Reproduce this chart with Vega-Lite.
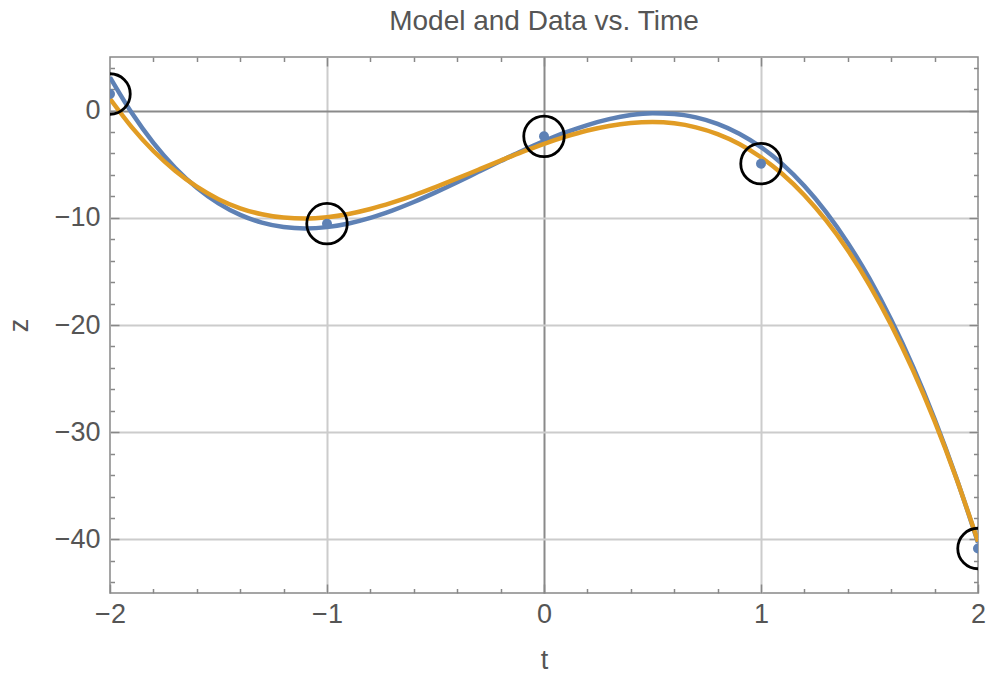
{
  "$schema": "https://vega.github.io/schema/vega-lite/v6.json",
  "width": 868,
  "height": 536,
  "autosize": {"type": "none"},
  "padding": {"left": 110, "top": 57, "right": 11, "bottom": 88},
  "background": "white",
  "title": {"text": "Model and Data vs. Time", "fontSize": 28, "font": "Liberation Sans", "fontWeight": "normal", "color": "#555555", "offset": 20, "anchor": "middle"},
  "config": {
    "view": {"stroke": "#888888", "strokeWidth": 1.5},
    "axis": {"domain": false, "tickColor": "#888888", "tickWidth": 1.5, "labelFont": "Liberation Sans", "labelFontSize": 27, "labelColor": "#555555", "titleFont": "Liberation Sans", "titleFontSize": 27, "titleFontWeight": "normal", "titleColor": "#555555"}
  },
  "datasets": {
    "model": [
      {"t": -2.0, "z": 3.10}, {"t": -1.9, "z": -0.21}, {"t": -1.8, "z": -3.01}, {"t": -1.7, "z": -5.33},
      {"t": -1.6, "z": -7.20}, {"t": -1.5, "z": -8.65}, {"t": -1.4, "z": -9.73}, {"t": -1.3, "z": -10.45},
      {"t": -1.2, "z": -10.86}, {"t": -1.1, "z": -10.99}, {"t": -1.0, "z": -10.87}, {"t": -0.9, "z": -10.53},
      {"t": -0.8, "z": -10.01}, {"t": -0.7, "z": -9.33}, {"t": -0.6, "z": -8.53}, {"t": -0.5, "z": -7.63},
      {"t": -0.4, "z": -6.68}, {"t": -0.3, "z": -5.69}, {"t": -0.2, "z": -4.71}, {"t": -0.1, "z": -3.75},
      {"t": 0.0, "z": -2.85}, {"t": 0.1, "z": -2.04}, {"t": 0.2, "z": -1.35}, {"t": 0.3, "z": -0.80},
      {"t": 0.4, "z": -0.42}, {"t": 0.5, "z": -0.25}, {"t": 0.6, "z": -0.31}, {"t": 0.7, "z": -0.63},
      {"t": 0.8, "z": -1.23}, {"t": 0.9, "z": -2.15}, {"t": 1.0, "z": -3.40}, {"t": 1.1, "z": -5.02},
      {"t": 1.2, "z": -7.03}, {"t": 1.3, "z": -9.46}, {"t": 1.4, "z": -12.34}, {"t": 1.5, "z": -15.68},
      {"t": 1.6, "z": -19.52}, {"t": 1.7, "z": -23.87}, {"t": 1.8, "z": -28.77}, {"t": 1.9, "z": -34.24},
      {"t": 2.0, "z": -40.30}
    ],
    "fit": [
      {"t": -2.0, "z": 1.10}, {"t": -1.9, "z": -1.54}, {"t": -1.8, "z": -3.77}, {"t": -1.7, "z": -5.61},
      {"t": -1.6, "z": -7.10}, {"t": -1.5, "z": -8.26}, {"t": -1.4, "z": -9.11}, {"t": -1.3, "z": -9.67},
      {"t": -1.2, "z": -9.98}, {"t": -1.1, "z": -10.06}, {"t": -1.0, "z": -9.94}, {"t": -0.9, "z": -9.64},
      {"t": -0.8, "z": -9.18}, {"t": -0.7, "z": -8.59}, {"t": -0.6, "z": -7.91}, {"t": -0.5, "z": -7.14},
      {"t": -0.4, "z": -6.33}, {"t": -0.3, "z": -5.49}, {"t": -0.2, "z": -4.66}, {"t": -0.1, "z": -3.85},
      {"t": 0.0, "z": -3.10}, {"t": 0.1, "z": -2.43}, {"t": 0.2, "z": -1.86}, {"t": 0.3, "z": -1.43},
      {"t": 0.4, "z": -1.16}, {"t": 0.5, "z": -1.07}, {"t": 0.6, "z": -1.19}, {"t": 0.7, "z": -1.56},
      {"t": 0.8, "z": -2.19}, {"t": 0.9, "z": -3.11}, {"t": 1.0, "z": -4.35}, {"t": 1.1, "z": -5.94},
      {"t": 1.2, "z": -7.89}, {"t": 1.3, "z": -10.25}, {"t": 1.4, "z": -13.03}, {"t": 1.5, "z": -16.27},
      {"t": 1.6, "z": -19.99}, {"t": 1.7, "z": -24.21}, {"t": 1.8, "z": -28.97}, {"t": 1.9, "z": -34.29},
      {"t": 2.0, "z": -40.20}
    ],
    "obs": [
      {"t": -2, "z": 1.55}, {"t": -1, "z": -10.55}, {"t": 0, "z": -2.4}, {"t": 1, "z": -4.95}, {"t": 2, "z": -40.85}
    ]
  },
  "layer": [
    {
      "data": {"name": "model"},
      "mark": {"type": "line", "color": "#5E81B5", "strokeWidth": 4.5, "interpolate": "monotone", "clip": true},
      "encoding": {
        "x": {"field": "t", "type": "quantitative", "scale": {"domain": [-2, 2], "nice": false, "zero": false},
          "axis": {"orient": "bottom", "title": "t", "values": [-2, -1, 0, 1, 2], "format": "d", "tickSize": -9, "labelPadding": 17, "labelFlush": false, "labelOverlap": false, "grid": true,
            "gridColor": {"condition": {"test": "datum.value === 0", "value": "#8a8a8a"}, "value": "#cccccc"},
            "gridOpacity": {"condition": {"test": "abs(datum.value) === 2", "value": 0}, "value": 1},
            "gridWidth": 2, "titlePadding": 20}},
        "y": {"field": "z", "type": "quantitative", "scale": {"domain": [-45, 5], "nice": false, "zero": false},
          "axis": {"orient": "left", "title": "z", "values": [-40, -30, -20, -10, 0], "format": "d", "tickSize": -9, "labelPadding": 19, "labelOverlap": false, "grid": true,
            "gridColor": {"condition": {"test": "datum.value === 0", "value": "#8a8a8a"}, "value": "#cccccc"},
            "gridWidth": 2, "titlePadding": 21}}
      }
    },
    {
      "data": {"name": "fit"},
      "mark": {"type": "line", "color": "#E19C24", "strokeWidth": 4.5, "interpolate": "monotone", "clip": true},
      "encoding": {
        "x": {"field": "t", "type": "quantitative", "scale": {"domain": [-2, 2], "nice": false, "zero": false},
          "axis": {"orient": "bottom", "title": null, "values": [-1.8, -1.6, -1.4, -1.2, -0.8, -0.6, -0.4, -0.2, 0.2, 0.4, 0.6, 0.8, 1.2, 1.4, 1.6, 1.8], "tickSize": -4.5, "labels": false, "grid": false}},
        "y": {"field": "z", "type": "quantitative", "scale": {"domain": [-45, 5], "nice": false, "zero": false},
          "axis": {"orient": "left", "title": null, "values": [-44, -42, -38, -36, -34, -32, -28, -26, -24, -22, -18, -16, -14, -12, -8, -6, -4, -2, 2, 4], "tickSize": -4.5, "labels": false, "grid": false}}
      }
    },
    {
      "data": {"name": "obs"},
      "mark": {"type": "point", "shape": "circle", "filled": true, "color": "#5E81B5", "opacity": 1, "size": 100, "clip": true},
      "encoding": {
        "x": {"field": "t", "type": "quantitative", "scale": {"domain": [-2, 2], "nice": false, "zero": false},
          "axis": {"orient": "top", "title": null, "values": [-1, 0, 1], "tickSize": -9, "labels": false, "grid": false}},
        "y": {"field": "z", "type": "quantitative", "scale": {"domain": [-45, 5], "nice": false, "zero": false},
          "axis": {"orient": "right", "title": null, "values": [-40, -30, -20, -10, 0], "tickSize": -9, "labels": false, "grid": false}}
      }
    },
    {
      "data": {"name": "obs"},
      "mark": {"type": "point", "shape": "circle", "filled": false, "color": "#000000", "strokeWidth": 2.8, "opacity": 1, "size": 1640, "clip": true},
      "encoding": {
        "x": {"field": "t", "type": "quantitative", "scale": {"domain": [-2, 2], "nice": false, "zero": false},
          "axis": {"orient": "top", "title": null, "values": [-1.8, -1.6, -1.4, -1.2, -0.8, -0.6, -0.4, -0.2, 0.2, 0.4, 0.6, 0.8, 1.2, 1.4, 1.6, 1.8], "tickSize": -4.5, "labels": false, "grid": false}},
        "y": {"field": "z", "type": "quantitative", "scale": {"domain": [-45, 5], "nice": false, "zero": false},
          "axis": {"orient": "right", "title": null, "values": [-44, -42, -38, -36, -34, -32, -28, -26, -24, -22, -18, -16, -14, -12, -8, -6, -4, -2, 2, 4], "tickSize": -4.5, "labels": false, "grid": false}}
      }
    }
  ],
  "resolve": {"axis": {"x": "independent", "y": "independent"}}
}
